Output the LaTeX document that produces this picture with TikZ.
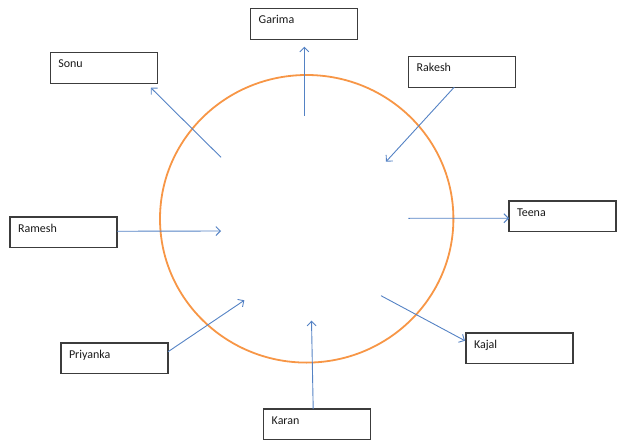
\documentclass[tikz,border=0pt]{standalone}
\usepackage{fontspec}
\setmainfont{Carlito}
\usepackage{tikz}
\usetikzlibrary{arrows.meta,positioning}
\definecolor{ringorange}{RGB}{247,150,70}
\definecolor{linkblue}{RGB}{84,130,196}
\definecolor{boxgray}{RGB}{60,60,60}
\tikzset{
  namebox/.style={draw=boxgray, line width=1.2pt, anchor=north west, outer sep=0pt,
    text width=91pt, inner xsep=8pt, inner ysep=4pt,
    text height=11pt, text depth=11.5pt, align=left,
    text=black!90, font=\fontsize{12}{14}\selectfont},   % name card
  ring/.style={draw=ringorange, line width=1.8pt},        % the circle
  link/.style={draw=linkblue, line width=0.9pt, -{Straight Barb[length=4.5pt,width=9pt]}}
}

\begin{document}
\begin{tikzpicture}[x=1pt, y=-1pt]
  \useasboundingbox (0,0) rectangle (621,441);
  \draw[ring] (306.7,218.8) ellipse [x radius=146.7, y radius=143.8];
  % name cards round the circle
  \node[namebox] (garima)   at (250.7,8.7) {Garima};
  \node[namebox] (sonu)     at (50.3,52.7) {Sonu};
  \node[namebox] (rakesh)   at (408.7,56.7) {Rakesh};
  \node[namebox] (teena)    at (509,201) {Teena};
  \node[namebox] (ramesh)   at (10,217) {Ramesh};
  \node[namebox] (priyanka) at (61,343) {Priyanka};
  \node[namebox] (kajal)    at (466,333) {Kajal};
  \node[namebox] (karan)    at (263.7,409) {Karan};
  % inner ends of the arrows
  \coordinate (garimaIn)   at (304.3,116);
  \coordinate (sonuIn)     at (221,157.3);
  \coordinate (rakeshIn)   at (386,161.7);
  \coordinate (teenaIn)    at (408.3,218.3);
  \coordinate (rameshIn)   at (221,231);
  \coordinate (priyankaIn) at (244.3,300.3);
  \coordinate (kajalIn)    at (381,295.7);
  \coordinate (karanIn)    at (311.5,320.7);
  % outward arrows
  \draw[link, shorten >=7.5pt] (garimaIn) -- (garima.south -| garimaIn);
  \draw[link] (sonuIn) -- ([xshift=-6.5pt,yshift=-4.5pt]sonu.south east);
  \draw[link] (teenaIn) -- ([yshift=-2pt]teena.west);
  \draw[link] (kajalIn) -- ([xshift=-1pt,yshift=7.5pt]kajal.west);
  % inward arrows
  \draw[link] ([xshift=-8pt]rakesh.south) -- (rakeshIn);
  \draw[link] ([yshift=1pt]ramesh.east) -- (rameshIn);
  \draw[link] ([yshift=6.5pt]priyanka.east) -- (priyankaIn);
  \draw[link] ([xshift=-4pt]karan.north) -- (karanIn);
\end{tikzpicture}
\end{document}
